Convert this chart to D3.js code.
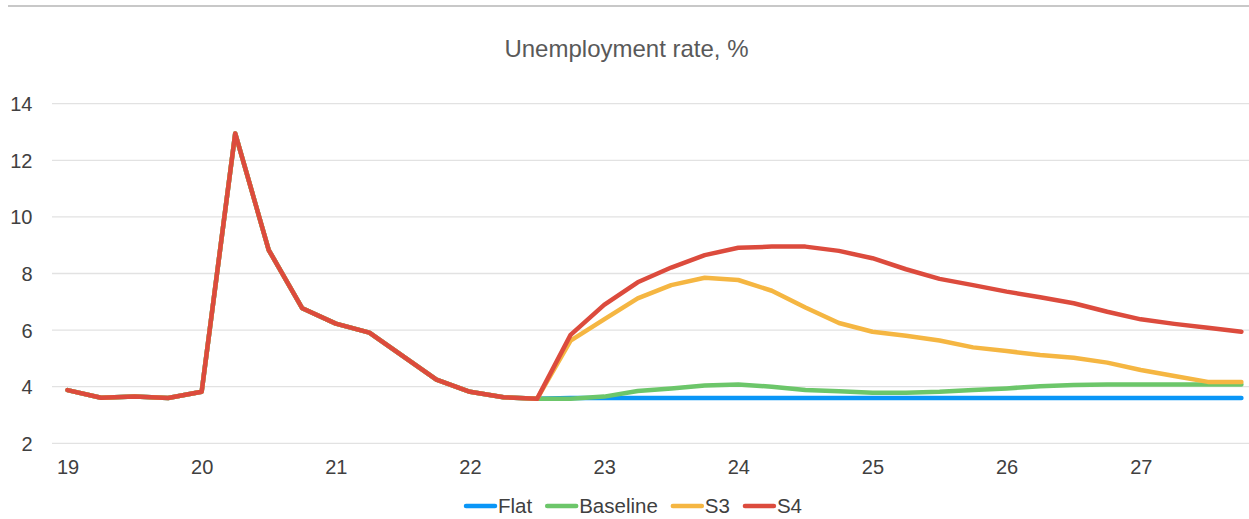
<!DOCTYPE html>
<html>
<head>
<meta charset="utf-8">
<script src="https://cdn.jsdelivr.net/npm/d3@7"></script>
<style>
  html, body { margin: 0; padding: 0; background: #fff; }
  svg { display: block; font-family: "Liberation Sans", Arial, sans-serif; }
</style>
</head>
<body>
<svg id="chart" width="1249" height="519"></svg>
<script>
// ---- data ----
const quarters = d3.range(36); // 2019Q1 .. 2027Q4
const yearLabels = ["19", "20", "21", "22", "23", "24", "25", "26", "27"];
const yTicks = [2, 4, 6, 8, 10, 12, 14];
const history = [3.88, 3.61, 3.65, 3.60, 3.82, 12.95, 8.83, 6.77, 6.23, 5.91, 5.08, 4.25, 3.82, 3.63, 3.57];
const flatForecast = [3.6, 3.6, 3.6, 3.6, 3.6, 3.6, 3.6, 3.6, 3.6, 3.6, 3.6, 3.6, 3.6, 3.6, 3.6, 3.6, 3.6, 3.6, 3.6, 3.6, 3.6];
const baselineForecast = [3.57, 3.65, 3.85, 3.94, 4.04, 4.08, 4.00, 3.88, 3.84, 3.79, 3.79, 3.82, 3.88, 3.94, 4.02, 4.06, 4.08, 4.08, 4.08, 4.08, 4.08];
const s3Forecast = [5.63, 6.38, 7.12, 7.59, 7.85, 7.77, 7.39, 6.80, 6.25, 5.94, 5.80, 5.63, 5.39, 5.26, 5.12, 5.02, 4.85, 4.59, 4.38, 4.17, 4.17];
const s4Forecast = [5.83, 6.89, 7.69, 8.21, 8.65, 8.91, 8.95, 8.95, 8.80, 8.54, 8.15, 7.81, 7.59, 7.36, 7.16, 6.95, 6.65, 6.38, 6.22, 6.08, 5.94];
const seriesNames = ["Flat", "Baseline", "S3", "S4"];
const seriesColors = ["#0a96f7", "#6cc66a", "#f5b642", "#dc4b3d"];
const title = "Unemployment rate, %";

const seriesValues = [flatForecast, baselineForecast, s3Forecast, s4Forecast].map(f => history.concat(f));

// ---- layout ----
const svg = d3.select("#chart");
const x = d3.scalePoint().domain(quarters).range([67.5, 1241.4]);
const y = d3.scaleLinear().domain([2, 14]).range([443.3, 103.7]);

// top border
svg.append("line").attr("x1", 8).attr("x2", 1249).attr("y1", 6).attr("y2", 6)
  .attr("stroke", "#c8c8c8").attr("stroke-width", 2.2);

// title
svg.append("text").attr("x", 626.5).attr("y", 56.5).attr("text-anchor", "middle")
  .attr("fill", "#595959").style("font-size", "24px").text(title);

// gridlines
svg.append("g").selectAll("line").data(yTicks).join("line")
  .attr("x1", 52).attr("x2", 1249)
  .attr("y1", d => y(d)).attr("y2", d => y(d))
  .attr("stroke", "#e2e2e2").attr("stroke-width", 1.3);

// y axis labels
const yAxis = d3.axisLeft(y).tickValues(yTicks).tickSize(0).tickPadding(0).tickFormat(d3.format("d"));
const gy = svg.append("g").attr("transform", "translate(32.5,0)").call(yAxis);
gy.select(".domain").remove();
gy.selectAll("text").attr("fill", "#404040").style("font-size", "20px")
  .style("font-family", "'Liberation Sans', Arial, sans-serif").attr("dy", "0.35em");

// x axis labels
const xAxis = d3.axisBottom(x).tickValues(quarters.filter(q => q % 4 === 0)).tickSize(0).tickPadding(0)
  .tickFormat(q => yearLabels[q / 4]);
const gx = svg.append("g").attr("transform", "translate(0,474)").call(xAxis);
gx.select(".domain").remove();
gx.selectAll("text").attr("fill", "#404040").style("font-size", "20px")
  .style("font-family", "'Liberation Sans', Arial, sans-serif").attr("dy", "0");

// lines
const line = d3.line().x((d, i) => x(quarters[i])).y(d => y(d));
svg.append("g").selectAll("path").data(seriesValues).join("path")
  .attr("d", d => line(d))
  .attr("fill", "none")
  .attr("stroke", (d, i) => seriesColors[i])
  .attr("stroke-width", 4.5)
  .attr("stroke-linejoin", "round")
  .attr("stroke-linecap", "round");

// legend
const legend = svg.append("g");
const items = legend.selectAll("g").data(seriesNames).join("g");
items.append("line").attr("x1", 0).attr("x2", 29).attr("y1", 0).attr("y2", 0)
  .attr("stroke", (d, i) => seriesColors[i]).attr("stroke-width", 4.5).attr("stroke-linecap", "round");
items.append("text").attr("x", 32).attr("y", 0).attr("dy", "0.35em")
  .attr("fill", "#404040").style("font-size", "20.5px").text(d => d);
let cx = 0;
items.each(function () {
  const w = d3.select(this).select("text").node().getComputedTextLength();
  d3.select(this).attr("transform", `translate(${cx},0)`);
  cx += 32 + w + 15;
});
const totalW = cx - 15;
legend.attr("transform", `translate(${634 - totalW / 2},506)`);
</script>
</body>
</html>
